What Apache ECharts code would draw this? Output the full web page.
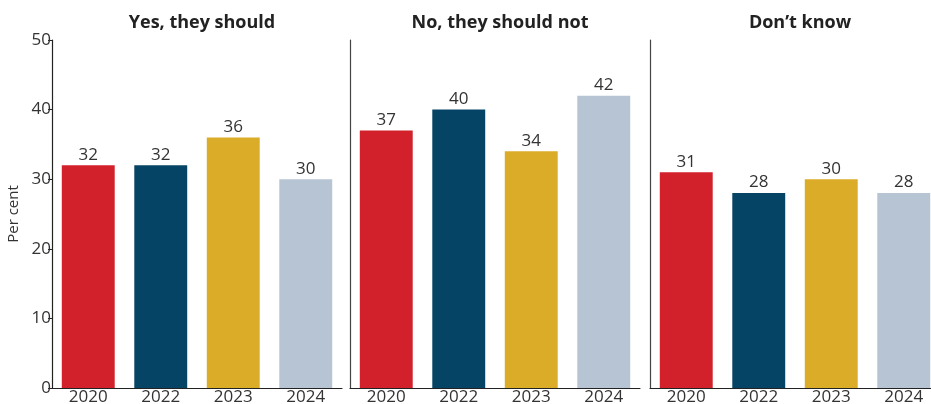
<!DOCTYPE html>
<html>
<head>
<meta charset="utf-8">
<script src="https://cdn.jsdelivr.net/npm/echarts@6/dist/echarts.min.js"></script>
<style>
  html, body { margin: 0; padding: 0; background: #fff; }
  #chart { width: 931px; height: 404px; }
</style>
</head>
<body>
<div id="chart"></div>
<script>
const years = ['2020', '2022', '2023', '2024'];
const panelTitles = ['Yes, they should', 'No, they should not', 'Don\u2019t know'];
const yesValues = [32, 32, 36, 30];
const noValues = [37, 40, 34, 42];
const dontKnowValues = [31, 28, 30, 28];
const yTicks = [0, 10, 20, 30, 40, 50];

const barColors = ['#D2212B', '#064466', '#DBAC28', '#B7C4D4'];
const font = '"Open Sans", Lato, sans-serif';
const panels = [yesValues, noValues, dontKnowValues];
const lefts = [52, 350, 650];

const chart = echarts.init(document.getElementById('chart'));

const option = {
  animation: false,
  backgroundColor: '#fff',
  title: panels.map((_, i) => ({
    text: panelTitles[i],
    left: lefts[i] + 145,
    top: 9,
    textAlign: 'center',
    textStyle: { fontFamily: font, fontSize: 18, fontWeight: 'bold', color: '#222' }
  })),
  grid: panels.map((_, i) => ({
    left: lefts[i], top: 40, width: 290, height: 348,
    outerBoundsMode: 'none'
  })),
  xAxis: panels.map((_, i) => ({
    type: 'category',
    gridIndex: i,
    data: years,
    axisLine: { lineStyle: { color: '#222', width: 1.2 } },
    axisTick: { show: false },
    axisLabel: { fontFamily: font, fontSize: 17, color: '#333', margin: 1 }
  })),
  yAxis: panels.map((_, i) => ({
    type: 'value',
    gridIndex: i,
    min: yTicks[0],
    max: yTicks[yTicks.length - 1],
    interval: 10,
    name: i === 0 ? 'Per cent' : '',
    nameLocation: 'middle',
    nameGap: 31,
    nameTextStyle: { fontFamily: font, fontSize: 15, color: '#333' },
    splitLine: { show: false },
    axisLine: { show: true, lineStyle: { color: i === 0 ? '#222' : '#444', width: 1.2 } },
    axisTick: { show: i === 0, length: 4, lineStyle: { color: '#222' } },
    axisLabel: { show: i === 0, fontFamily: font, fontSize: 17, color: '#333', margin: 1 }
  })),
  series: panels.map((vals, i) => ({
    type: 'bar',
    xAxisIndex: i,
    yAxisIndex: i,
    barCategoryGap: '27%',
    data: vals.map((v, j) => ({ value: v, itemStyle: { color: barColors[j] } })),
    label: {
      show: true,
      position: 'top',
      distance: 2,
      fontFamily: font,
      fontSize: 17,
      color: '#333'
    }
  }))
};

chart.setOption(option);
</script>
</body>
</html>
